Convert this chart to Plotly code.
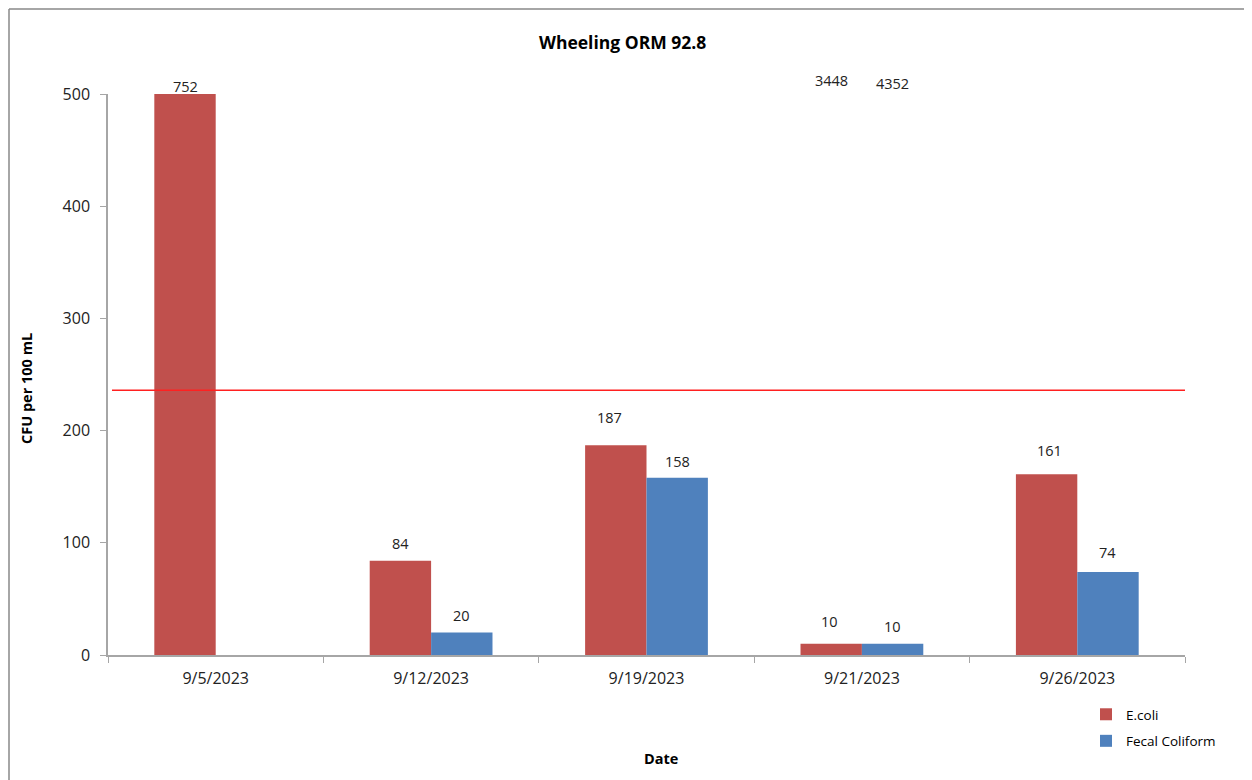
import plotly.graph_objects as go

dates = ["9/5/2023", "9/12/2023", "9/19/2023", "9/21/2023", "9/26/2023"]
ecoli = [752, 84, 187, 10, 161]
fecal = [None, 20, 158, 10, 74]
extra_label_dates = ["9/21/2023", "9/21/2023"]
extra_labels = [3448, 4352]
threshold = 236
y_max = 500
y_ticks = [0, 100, 200, 300, 400, 500]

# label offsets (pixels above bar top), style only
ecoli_label_shift = [8, 17, 28, 22, 24]
fecal_label_shift = [0, 17, 16, 17, 19]
ecoli_label_xshift = [0, 0, -6, -2, 3]

RED = "#C0504D"
BLUE = "#4F81BD"
FONT = "Open Sans, Noto Sans, sans-serif"

# page body has an 8px margin; target screen coordinates below
OFF = 8
PL, PR, PT, PB = 108, 1185, 94, 655  # plot area on screen
W, H = 1252 - OFF, 780 - OFF         # figure fits inside the window


def px(xs):
    return (xs - PL) / (PR - PL)


def py(ys):
    return (PB - ys) / (PB - PT)


def clip(v):
    return None if v is None else min(v, y_max)


fig = go.Figure()
fig.add_trace(go.Bar(x=dates, y=[clip(v) for v in ecoli], name="E.coli", legendgroup="a",
                     marker=dict(color=RED, line=dict(width=0)), offsetgroup="a"))
fig.add_trace(go.Bar(x=dates, y=[clip(v) for v in fecal], name="Fecal Coliform", legendgroup="b",
                     marker=dict(color=BLUE, line=dict(width=0)), offsetgroup="b"))

annotations = []
n = len(dates)
lab_font = dict(size=14.5, color="#222", family=FONT)
for i, v in enumerate(ecoli):
    if v is None:
        continue
    annotations.append(dict(x=i - 0.142, y=clip(v), xref="x", yref="y", text=str(v),
                            showarrow=False, yshift=ecoli_label_shift[i],
                            xshift=ecoli_label_xshift[i], font=lab_font))
for i, v in enumerate(fecal):
    if v is None:
        continue
    annotations.append(dict(x=i + 0.142, y=clip(v), xref="x", yref="y", text=str(v),
                            showarrow=False, yshift=fecal_label_shift[i], font=lab_font))
for k, (d, v) in enumerate(zip(extra_label_dates, extra_labels)):
    i = dates.index(d)
    annotations.append(dict(x=i - 0.142 + 0.284 * k, y=y_max, xref="x", yref="y", text=str(v),
                            showarrow=False, yshift=14 - 3 * k, font=lab_font))

annotations.append(dict(text="<b>Wheeling ORM 92.8</b>", x=px(622), y=py(42), xref="paper", yref="paper",
                        xanchor="center", yanchor="middle",
                        showarrow=False, font=dict(size=17.5, color="#000", family=FONT)))
annotations.append(dict(text="<b>Date</b>", xref="paper", yref="paper", x=px(661), y=py(758),
                        xanchor="center", yanchor="middle",
                        showarrow=False, font=dict(size=14.5, family=FONT, color="#000")))
annotations.append(dict(text="<b>CFU per 100 mL</b>", xref="paper", yref="paper", x=px(26),
                        y=py(389), xanchor="center", yanchor="middle", showarrow=False, textangle=-90,
                        font=dict(size=14.5, family=FONT, color="#000")))

tick_font = dict(size=16, family=FONT, color="#222")
fig.update_layout(
    width=W, height=H,
    margin=dict(l=PL - OFF, r=W - (PR - OFF), t=PT - OFF, b=H - (PB - OFF)),
    paper_bgcolor="white", plot_bgcolor="white",
    barmode="group", bargap=0.43, bargroupgap=0,
    font=dict(family=FONT, size=14, color="#222"),
    showlegend=True,
    legend=dict(x=px(1086), y=py(699), xanchor="left", yanchor="top",
                traceorder="grouped", tracegroupgap=6,
                font=dict(size=13.5, family=FONT, color="#000"),
                bgcolor="rgba(0,0,0,0)", itemwidth=30),
    xaxis=dict(type="category", showline=True, linecolor="#A6A6A6", linewidth=1.5,
               ticks="outside", tickson="boundaries", ticklen=6, tickcolor="#A6A6A6",
               ticklabelstandoff=8,
               showgrid=False, tickfont=tick_font, range=[-0.5, n - 0.5]),
    yaxis=dict(range=[0, y_max], tickvals=y_ticks, showline=True, linecolor="#A6A6A6",
               linewidth=1.5, ticks="outside", ticklen=6, tickcolor="#A6A6A6",
               ticklabelstandoff=7,
               showgrid=False, zeroline=False, tickfont=tick_font),
    annotations=annotations,
)

# threshold line
fig.add_shape(type="line", xref="paper", yref="y", x0=px(112), x1=1.0,
              y0=threshold, y1=threshold, line=dict(color="#FF2020", width=1.5))
# chart border: top and left edges (figure starts at screen pixel 8)
fig.add_shape(type="line", xref="paper", yref="paper",
              x0=px(9), x1=px(1300), y0=py(9), y1=py(9),
              line=dict(color="#888888", width=1.5))
fig.add_shape(type="line", xref="paper", yref="paper",
              x0=px(9), x1=px(9), y0=py(9), y1=py(820),
              line=dict(color="#888888", width=1.5))

fig.write_html("out.html")
